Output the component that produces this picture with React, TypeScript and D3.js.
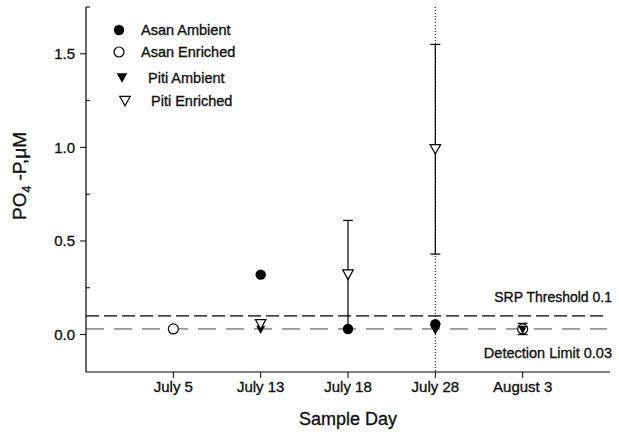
import React from "react";
import * as d3 from "d3";

const categories = ["July 5", "July 13", "July 18", "July 28", "August 3"];
const asanAmbient: (number | null)[] = [null, 0.32, 0.03, 0.055, null];
const asanEnriched: (number | null)[] = [0.03, null, null, null, 0.03];
const pitiAmbient: (number | null)[] = [null, 0.025, null, 0.02, 0.025];
const pitiEnriched: (number | null)[] = [null, 0.055, 0.32, 0.99, null];
const pitiEnrichedErr: (number | null)[] = [null, null, 0.29, 0.56, null];
const asanEnrichedErr: (number | null)[] = [null, null, null, null, 0.03];
const yMajorTicks = [0, 0.5, 1.0, 1.5];
const yMinorTicks = [0.25, 0.75, 1.25, 1.75];
const srpThreshold = 0.1;
const detectionLimit = 0.03;
const legendLabels = ["Asan Ambient", "Asan Enriched", "Piti Ambient", "Piti Enriched"];

const W = 619;
const H = 436;
const font = "'Liberation Sans', Arial, Helvetica, sans-serif";
const ink = "#111";

export default function App() {
  const x = d3.scaleLinear().domain([-1, 5]).range([86, 610]);
  const y = d3.scaleLinear().domain([-0.2, 1.75]).range([372, 7]);
  const x0 = 86;
  const yBottom = 372;
  const yTop = 7;

  const tri = (cx: number, cy: number, s: number) => {
    const h = s * 0.9;
    return `M${cx - s / 2},${cy - h / 2}L${cx + s / 2},${cy - h / 2}L${cx},${cy + h / 2}Z`;
  };

  const errBar = (i: number, v: number | null, e: number | null, key: string) => {
    if (v == null || e == null) return null;
    const cx = x(i);
    return (
      <g key={key} stroke="#000" strokeWidth={1.2}>
        <line x1={cx} x2={cx} y1={y(v + e)} y2={y(v - e)} />
        <line x1={cx - 5} x2={cx + 5} y1={y(v + e)} y2={y(v + e)} />
        <line x1={cx - 5} x2={cx + 5} y1={y(v - e)} y2={y(v - e)} />
      </g>
    );
  };

  const txt = { fontFamily: font, fill: ink, stroke: ink, strokeWidth: 0.35 } as const;

  return (
    <svg width={W} height={H} style={{ position: "absolute", left: 0, top: 0, background: "#fff" }}>
      <rect x={0} y={0} width={W} height={H} fill="#fff" />
      {/* vertical dotted line at July 28 */}
      <line x1={x(3)} x2={x(3)} y1={yTop} y2={yBottom} stroke="#000" strokeWidth={1} strokeDasharray="1 2" />
      {/* reference lines */}
      <line x1={x0} x2={607} y1={y(srpThreshold)} y2={y(srpThreshold)} stroke="#000" strokeWidth={1.4} strokeDasharray="13 5" />
      <line x1={x0} x2={607} y1={y(detectionLimit)} y2={y(detectionLimit)} stroke="#333" strokeWidth={0.9} strokeDasharray="18 10" />
      <text x={612} y={302} textAnchor="end" fontSize={14} {...txt}>SRP Threshold 0.1</text>
      <text x={612} y={358} textAnchor="end" fontSize={14.5} {...txt}>Detection Limit 0.03</text>

      {/* axes */}
      <line x1={x0} x2={x0} y1={yTop} y2={yBottom} stroke="#000" strokeWidth={1.2} />
      <line x1={x0} x2={610} y1={yBottom} y2={yBottom} stroke="#000" strokeWidth={1.2} />
      {yMajorTicks.map((t) => (
        <g key={"ym" + t}>
          <line x1={x0 - 6} x2={x0} y1={y(t)} y2={y(t)} stroke="#000" strokeWidth={1} />
          <text x={x0 - 11} y={y(t)} dy="0.35em" textAnchor="end" fontSize={15} {...txt}>
            {t.toFixed(1)}
          </text>
        </g>
      ))}
      {yMinorTicks.map((t) => (
        <line key={"yn" + t} x1={x0} x2={x0 + 4} y1={y(t)} y2={y(t)} stroke="#000" strokeWidth={1} />
      ))}
      {categories.map((c, i) => (
        <g key={c}>
          <line x1={x(i)} x2={x(i)} y1={yBottom} y2={yBottom + 6} stroke="#000" strokeWidth={1} />
          <text x={x(i)} y={yBottom + 20} textAnchor="middle" fontSize={15} {...txt}>
            {c}
          </text>
        </g>
      ))}
      <text x={348} y={425} textAnchor="middle" fontSize={18} {...txt}>Sample Day</text>
      <text transform="translate(26,176) rotate(-90)" textAnchor="middle" fontSize={19} {...txt}>
        PO<tspan fontSize={12} dy={5}>4</tspan><tspan dy={-5}> -P,</tspan>μM
      </text>

      {/* error bars */}
      {categories.map((_, i) => errBar(i, pitiEnriched[i], pitiEnrichedErr[i], "pe" + i))}
      {categories.map((_, i) => errBar(i, asanEnriched[i], asanEnrichedErr[i], "ae" + i))}

      {/* markers */}
      {asanAmbient.map((v, i) => v == null ? null : (
        <circle key={"aa" + i} cx={x(i)} cy={y(v)} r={5.2} fill="#000" />
      ))}
      {asanEnriched.map((v, i) => v == null ? null : (
        <circle key={"ae" + i} cx={x(i)} cy={y(v)} r={5} fill="#fff" stroke="#000" strokeWidth={1.2} />
      ))}
      {pitiAmbient.map((v, i) => v == null ? null : (
        <path key={"pa" + i} d={tri(x(i), y(v), 9)} fill="#000" />
      ))}
      {pitiEnriched.map((v, i) => v == null ? null : (
        <path key={"pe" + i} d={tri(x(i), y(v), 10.5)} fill="#fff" stroke="#000" strokeWidth={1.2} />
      ))}

      {/* legend */}
      <circle cx={119} cy={30} r={5.2} fill="#000" />
      <circle cx={119} cy={52} r={5} fill="#fff" stroke="#000" strokeWidth={1.2} />
      <path d={tri(122, 78, 10.5)} fill="#000" />
      <path d={tri(125, 101, 10.5)} fill="#fff" stroke="#000" strokeWidth={1.2} />
      {[{ t: legendLabels[0], x: 141, y: 30 }, { t: legendLabels[1], x: 141, y: 52 }, { t: legendLabels[2], x: 148, y: 78 }, { t: legendLabels[3], x: 151, y: 101 }].map((d) => (
        <text key={d.t} x={d.x} y={d.y} dy="0.35em" fontSize={14.5} {...txt}>{d.t}</text>
      ))}
    </svg>
  );
}
